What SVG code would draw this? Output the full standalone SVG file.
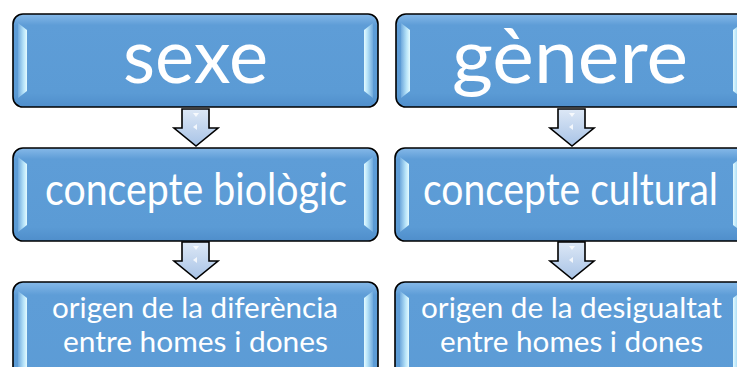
<svg xmlns="http://www.w3.org/2000/svg" xmlns:xlink="http://www.w3.org/1999/xlink" width="737" height="367" viewBox="0 0 737 367">
<defs>
<linearGradient id="gBox" x1="0" y1="0" x2="0" y2="1">
<stop offset="0" stop-color="#86b9e8"/>
<stop offset="0.12" stop-color="#5e9dd7"/>
<stop offset="0.85" stop-color="#5b9bd5"/>
<stop offset="1" stop-color="#4f8ecb"/>
</linearGradient>
<linearGradient id="gBox3" x1="0" y1="0" x2="0" y2="1">
<stop offset="0" stop-color="#86b9e8"/>
<stop offset="0.1" stop-color="#5e9dd7"/>
<stop offset="1" stop-color="#5b9bd5"/>
</linearGradient>
<linearGradient id="gHL" x1="0" y1="0" x2="1" y2="0">
<stop offset="0" stop-color="#6fa9dd"/>
<stop offset="0.6" stop-color="#b5e2f8"/>
<stop offset="1" stop-color="#e4fbff"/>
</linearGradient>
<linearGradient id="gHR" x1="1" y1="0" x2="0" y2="0">
<stop offset="0" stop-color="#6fa9dd"/>
<stop offset="0.6" stop-color="#b5e2f8"/>
<stop offset="1" stop-color="#e4fbff"/>
</linearGradient>
<linearGradient id="gArr" x1="0" y1="0" x2="0" y2="1">
<stop offset="0" stop-color="#dde8f6"/>
<stop offset="1" stop-color="#a8c3e6"/>
</linearGradient>
<path id="hlL" d="M5,9 L14,16 L14,77 L5,84 Z" fill="url(#gHL)"/>
<path id="hlL3" d="M5,9 L14,16 L14,110 L5,117 Z" fill="url(#gHL)"/>
<path id="hlR" d="M-5,9 L-14,16 L-14,77 L-5,84 Z" fill="url(#gHR)"/>
<path id="hlR3" d="M-5,9 L-14,16 L-14,110 L-5,117 Z" fill="url(#gHR)"/>
<g id="arrow">
<path d="M-14,0 H13 V19 H22 L0,37 L-22,19 H-14 Z" fill="url(#gArr)" stroke="#000" stroke-width="1.6" stroke-linejoin="miter"/>
<path d="M-3,4 L3,4 L0,8 Z" fill="#fff" opacity="0.8"/>
<path d="M1,15 L1,21 L-3,18 Z" fill="#fff" opacity="0.8"/>
</g>
</defs>
<style>
.box{fill:url(#gBox);stroke:#000;stroke-width:1.6}
.box3{fill:url(#gBox3);stroke:#000;stroke-width:1.6}
.t{font-family:Lato,"Open Sans","Liberation Sans",sans-serif;fill:#fff;text-anchor:middle}
</style>

<g id="connectors">
<use xlink:href="#arrow" transform="translate(196,109)"/>
<use xlink:href="#arrow" transform="translate(196,242)"/>
<use xlink:href="#arrow" transform="translate(572,109)"/>
<use xlink:href="#arrow" transform="translate(572,242)"/>
</g>

<g id="sexe">
<rect class="box" x="13" y="14" width="365" height="93" rx="10"/>
<use xlink:href="#hlL" transform="translate(13,14)"/>
<use xlink:href="#hlR" transform="translate(378,14)"/>
<text class="t" x="195.5" y="83" font-size="76" textLength="145" lengthAdjust="spacingAndGlyphs">sexe</text>
</g>

<g id="genere">
<rect class="box" x="396" y="14" width="351" height="93" rx="10"/>
<use xlink:href="#hlL" transform="translate(396,14)"/>
<use xlink:href="#hlR" transform="translate(747,14)"/>
<text class="t" x="570" y="83" font-size="76" textLength="236" lengthAdjust="spacingAndGlyphs">gènere</text>
</g>

<g id="concepte-biologic">
<rect class="box" x="13" y="148" width="365" height="93" rx="10"/>
<use xlink:href="#hlL" transform="translate(13,148)"/>
<use xlink:href="#hlR" transform="translate(378,148)"/>
<text class="t" x="196" y="205" font-size="44" textLength="302" lengthAdjust="spacingAndGlyphs">concepte biològic</text>
</g>

<g id="concepte-cultural">
<rect class="box" x="395" y="148" width="352" height="93" rx="10"/>
<use xlink:href="#hlL" transform="translate(395,148)"/>
<use xlink:href="#hlR" transform="translate(747,148)"/>
<text class="t" x="570.5" y="205" font-size="44" textLength="295" lengthAdjust="spacingAndGlyphs">concepte cultural</text>
</g>

<g id="origen-diferencia">
<rect class="box3" x="13" y="282" width="365" height="130" rx="10"/>
<use xlink:href="#hlL3" transform="translate(13,282)"/>
<use xlink:href="#hlR3" transform="translate(378,282)"/>
<text class="t" x="195" y="318" font-size="29" textLength="286" lengthAdjust="spacingAndGlyphs">origen de la diferència</text>
<text class="t" x="195.5" y="352" font-size="29" textLength="265" lengthAdjust="spacingAndGlyphs">entre homes i dones</text>
</g>

<g id="origen-desigualtat">
<rect class="box3" x="395" y="282" width="352" height="130" rx="10"/>
<use xlink:href="#hlL3" transform="translate(395,282)"/>
<use xlink:href="#hlR3" transform="translate(747,282)"/>
<text class="t" x="571.5" y="318" font-size="29" textLength="301" lengthAdjust="spacingAndGlyphs">origen de la desigualtat</text>
<text class="t" x="571.5" y="352" font-size="29" textLength="263" lengthAdjust="spacingAndGlyphs">entre homes i dones</text>
</g>
</svg>
